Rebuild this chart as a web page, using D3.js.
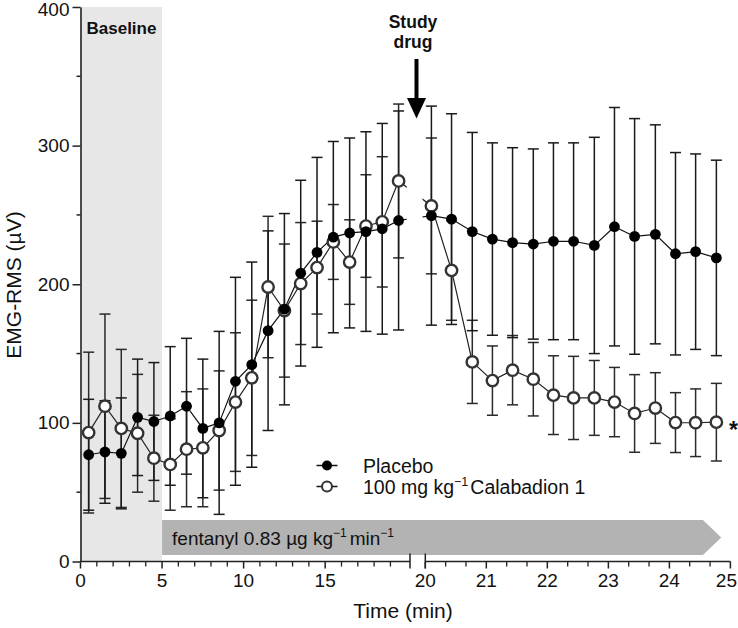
<!DOCTYPE html>
<html><head><meta charset="utf-8">
<script src="https://cdn.jsdelivr.net/npm/d3@7"></script>
<style>
body{margin:0;background:#fff}
svg{display:block}
text{font-family:"Liberation Sans",Arial,Helvetica,sans-serif;fill:#111}
</style>
</head><body>
<svg id="chart" width="738" height="628"></svg>
<script>
// ---- data ----
const timesLeft = [0.5,1.5,2.5,3.5,4.5,5.5,6.5,7.5,8.5,9.5,10.5,11.5,12.5,13.5,14.5,15.5,16.5,17.5,18.5,19.5];
const timesRight = [20.1,20.43,20.77,21.1,21.43,21.77,22.1,22.43,22.77,23.1,23.43,23.77,24.1,24.43,24.77];
const placeboMean = [77,79,78,104,101,105,112,96,100,130,142,166.5,182,208,223,234,237,238,240,246,
                     249.5,247,238,232.6,230,229,231,231,228,241.5,234.5,236,222,223.5,219];
const placeboSD   = [40,37,40,42,42.5,50,49,50,66,75,74,72,69,67,68.5,69,68.5,72,76,79,
                     79,76,71.5,69.4,68.5,68.6,71,71,78,86,85,79,73,70.5,70.5];
const calabadionMean = [93,112,96,92.5,74.5,70,81,82,94.5,115,132.5,198,181,200.5,212,230.5,216,242,245,274.5,
                        256.5,210,144,130.5,138,131.5,120,118,118,115,106.8,110.7,100.2,100.1,100.5];
const calabadionSD   = [58,66.5,57,42.5,31,33,41.5,42.5,43,50,56,51,48,44,33.5,27,30.5,37,47,55.5,
                        49,36,30,25,25,26.5,28.4,30,27,25,28,25.5,21.6,24.4,28];
const yTicks = [0,100,200,300,400];
const yMinorTicks = [50,150,250,350];
const xTicksLeft = [0,5,10,15];
const xMinorLeft = [1,2,3,4,6,7,8,9,11,12,13,14,16,17,18,19];
const xTicksRight = [20,21,22,23,24,25];
const xMinorRight = [20+1/3,20+2/3,21+1/3,21+2/3,22+1/3,22+2/3,23+1/3,23+2/3,24+1/3,24+2/3];
const seriesNames = ["Placebo","100 mg kg","Calabadion 1"];

// ---- scales ----
const svg = d3.select("#chart");
const y = d3.scaleLinear().domain([0,400]).range([561.5,7]);
const xL = d3.scaleLinear().domain([0,20.2]).range([80.5,410]);
const xR = d3.scaleLinear().domain([20,25]).range([425.3,730.4]);
const x = t => (t < 20.05 ? xL(t) : xR(t));
const times = timesLeft.concat(timesRight);

const mk = (means, sds) => times.map((t,i) => ({t, v: means[i], sd: sds[i]}));
const placebo = mk(placeboMean, placeboSD);
const calab = mk(calabadionMean, calabadionSD);

// ---- baseline band ----
svg.append("rect").attr("x", xL(0)).attr("y", y(400)).attr("width", xL(5)-xL(0)).attr("height", y(0)-y(400))
  .attr("fill", "#e7e7e7");
svg.append("text").attr("x", xL(0)+6).attr("y", 34).attr("font-size", 17).attr("font-weight", "bold")
  .text("Baseline");

// ---- fentanyl infusion bar ----
const fx0 = xL(5), fx1 = xR(24.55), fxTip = xR(24.85);
svg.append("path")
  .attr("d", `M${fx0},520 L${fx1},520 L${fxTip},537.5 L${fx1},555 L${fx0},555 Z`)
  .attr("fill", "#b3b3b3");
const ft = svg.append("text").attr("x", fx0+10).attr("y", 545).attr("font-size", 19);
ft.append("tspan").text("fentanyl 0.83 µg kg");
ft.append("tspan").attr("font-size", 12).attr("dy", -8).text("−1");
ft.append("tspan").attr("dy", 8).attr("dx", 3).text("min");
ft.append("tspan").attr("font-size", 12).attr("dy", -8).text("−1");

// ---- axes ----
const axisColor = "#222";
const gy = svg.append("g").attr("transform", `translate(${xL(0)},0)`)
  .call(d3.axisLeft(y).tickValues(yTicks).tickSize(8).tickPadding(3).tickSizeOuter(0));
gy.selectAll("text").attr("font-size", 19).style("font-family", "'Liberation Sans',Arial,sans-serif").attr("fill", "#111");
gy.selectAll(".tick").filter(d => d === 400).select("text").attr("dy", "0.38em").attr("y", 1.5);
gy.append("g").selectAll("line").data(yMinorTicks).join("line")
  .attr("x1", -4).attr("x2", 0).attr("y1", d => y(d)).attr("y2", d => y(d));
gy.selectAll("line").attr("stroke", axisColor).attr("stroke-width", 1.5);
gy.select(".domain").attr("stroke", axisColor).attr("stroke-width", 1.6);

function xAxisSeg(scale, major, minor, x0, x1) {
  const g = svg.append("g").attr("transform", `translate(0,${y(0)})`);
  g.append("line").attr("x1", x0).attr("x2", x1).attr("stroke", axisColor).attr("stroke-width", 1.6);
  g.selectAll(".maj").data(major).join("line").attr("class", "maj")
    .attr("x1", d => scale(d)).attr("x2", d => scale(d)).attr("y1", 0).attr("y2", 7)
    .attr("stroke", axisColor).attr("stroke-width", 1.5);
  g.selectAll(".min").data(minor).join("line").attr("class", "min")
    .attr("x1", d => scale(d)).attr("x2", d => scale(d)).attr("y1", 0).attr("y2", 5)
    .attr("stroke", axisColor).attr("stroke-width", 1.3);
  g.selectAll("text").data(major).join("text")
    .attr("x", d => (d === 25 ? 737 : scale(d))).attr("y", 25)
    .attr("text-anchor", d => (d === 25 ? "end" : "middle")).attr("font-size", 19)
    .text(d => d);
  return g;
}
const gL = xAxisSeg(xL, xTicksLeft, xMinorLeft, xL(0), xL(20.2));
const gR = xAxisSeg(xR, xTicksRight, xMinorRight, xR(20), xR(25));
// break marks
[xL(20.2), xR(20)].forEach(bx => {
  svg.append("line").attr("x1", bx).attr("x2", bx).attr("y1", y(0)-8).attr("y2", y(0)+7)
    .attr("stroke", axisColor).attr("stroke-width", 1.5);
});

svg.append("text").attr("x", 403).attr("y", 618).attr("text-anchor", "middle").attr("font-size", 21)
  .text("Time (min)");
svg.append("text").attr("transform", "translate(21,285) rotate(-90)").attr("text-anchor", "middle")
  .attr("font-size", 21).text("EMG-RMS (µV)");

// ---- error bars ----
function errorBars(data, color) {
  const g = svg.append("g").attr("stroke", color).attr("stroke-width", 1.5).attr("fill", "none");
  g.selectAll(".v").data(data).join("line").attr("class", "v")
    .attr("x1", d => x(d.t)).attr("x2", d => x(d.t))
    .attr("y1", d => y(d.v - d.sd)).attr("y2", d => y(d.v + d.sd));
  [-1, 1].forEach(s => {
    g.selectAll(".c" + (s+1)).data(data).join("line").attr("class", "c" + (s+1))
      .attr("x1", d => x(d.t) - 5.5).attr("x2", d => x(d.t) + 5.5)
      .attr("y1", d => y(d.v + s*d.sd)).attr("y2", d => y(d.v + s*d.sd));
  });
}
errorBars(calab, "#2a2a2a");
errorBars(placebo, "#1a1a1a");

// ---- lines (with the axis break cut out) ----
const defs = svg.append("defs");
const cp = defs.append("clipPath").attr("id", "brk");
cp.append("rect").attr("x", 0).attr("y", 0).attr("width", 406.8).attr("height", 628);
cp.append("rect").attr("x", 422.5).attr("y", 0).attr("width", 330).attr("height", 628);
const line = d3.line().x(d => x(d.t)).y(d => y(d.v));
svg.append("path").datum(calab).attr("d", line).attr("fill", "none").attr("stroke", "#222")
  .attr("stroke-width", 1.2).attr("clip-path", "url(#brk)");
svg.append("path").datum(placebo).attr("d", line).attr("fill", "none").attr("stroke", "#111")
  .attr("stroke-width", 1.2).attr("clip-path", "url(#brk)");

// ---- markers ----
svg.append("g").selectAll("circle").data(calab).join("circle")
  .attr("cx", d => x(d.t)).attr("cy", d => y(d.v)).attr("r", 5.7)
  .attr("fill", "#fff").attr("stroke", "#333").attr("stroke-width", 2.4);
svg.append("g").selectAll("circle").data(placebo).join("circle")
  .attr("cx", d => x(d.t)).attr("cy", d => y(d.v)).attr("r", 5.4)
  .attr("fill", "#000");

// ---- legend ----
const lg = svg.append("g");
const rows = [{yy: 465.5, open: false}, {yy: 486.5, open: true}];
rows.forEach(r => {
  lg.append("line").attr("x1", 316.5).attr("x2", 337.5).attr("y1", r.yy).attr("y2", r.yy)
    .attr("stroke", "#111").attr("stroke-width", 1.5);
  lg.append("circle").attr("cx", 327).attr("cy", r.yy).attr("r", 5)
    .attr("fill", r.open ? "#fff" : "#000").attr("stroke", r.open ? "#333" : "none").attr("stroke-width", 2);
});
lg.append("text").attr("x", 363).attr("y", 472.5).attr("font-size", 19.5).text(seriesNames[0]);
const l2 = lg.append("text").attr("x", 363).attr("y", 493.5).attr("font-size", 19.5);
l2.append("tspan").text(seriesNames[1]);
l2.append("tspan").attr("font-size", 12.5).attr("dy", -8).text("−1");
l2.append("tspan").attr("dy", 8).attr("dx", 2).text(seriesNames[2]);

// ---- annotations ----
svg.append("text").attr("x", 413).attr("y", 28).attr("text-anchor", "middle").attr("font-size", 17.5)
  .attr("font-weight", "bold").text("Study");
svg.append("text").attr("x", 413).attr("y", 48).attr("text-anchor", "middle").attr("font-size", 17.5)
  .attr("font-weight", "bold").text("drug");
svg.append("line").attr("x1", 416.5).attr("x2", 416.5).attr("y1", 59).attr("y2", 100)
  .attr("stroke", "#000").attr("stroke-width", 4);
svg.append("path").attr("d", "M407,98 L426,98 L416.5,118.5 Z").attr("fill", "#000");
svg.append("text").attr("x", 733.5).attr("y", y(100)+15).attr("text-anchor", "middle")
  .attr("font-size", 23).attr("font-weight", "bold").text("*");
</script>
</body></html>
